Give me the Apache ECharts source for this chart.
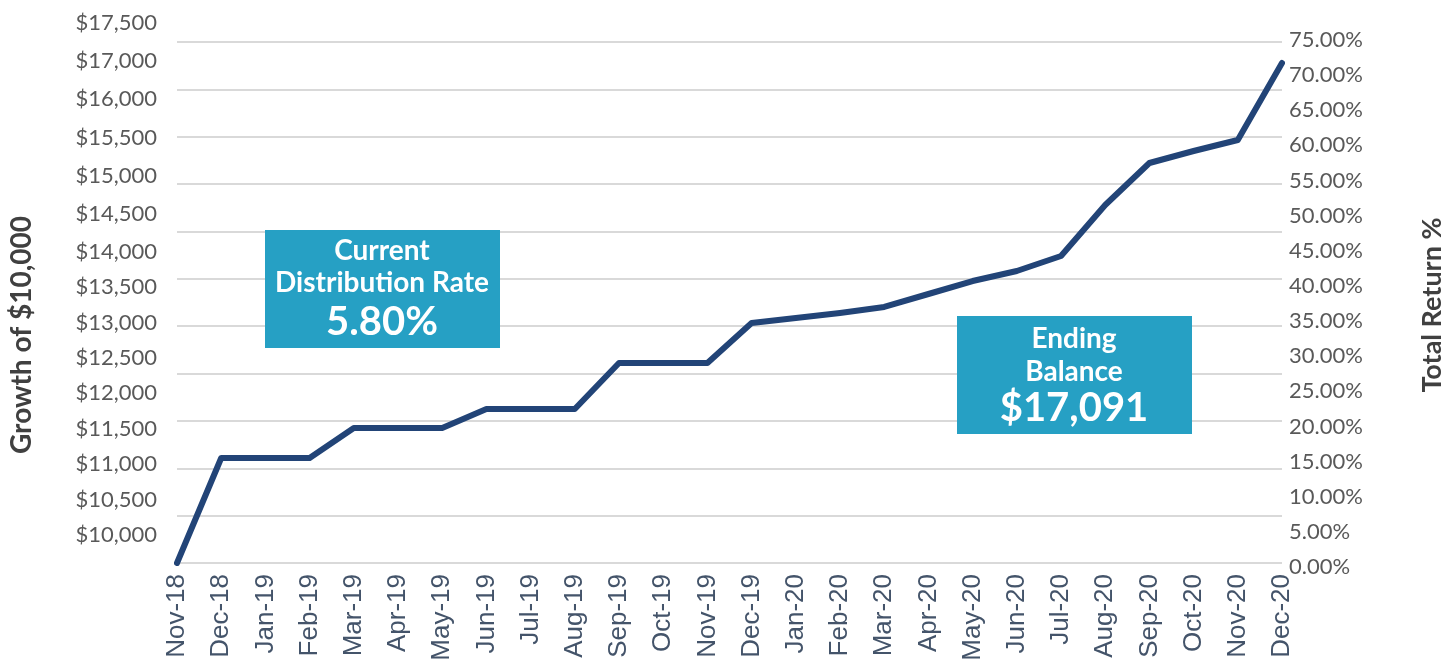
<!DOCTYPE html>
<html>
<head>
<meta charset="utf-8">
<script src="https://cdn.jsdelivr.net/npm/echarts@6/dist/echarts.min.js"></script>
<style>
  html, body { margin: 0; background: #fff; }
  #chart { width: 1444px; height: 664px; }
</style>
</head>
<body>
<div id="chart"></div>
<script>
const months = [
  "Nov-18", "Dec-18", "Jan-19", "Feb-19", "Mar-19", "Apr-19", "May-19",
  "Jun-19", "Jul-19", "Aug-19", "Sep-19", "Oct-19", "Nov-19", "Dec-19",
  "Jan-20", "Feb-20", "Mar-20", "Apr-20", "May-20", "Jun-20", "Jul-20",
  "Aug-20", "Sep-20", "Oct-20", "Nov-20", "Dec-20",
];
const growth = [
  10000, 11489, 11489, 11489, 11915, 11915, 11915, 12184, 12184, 12184,
  12836, 12836, 12836, 13404, 13475, 13546, 13631, 13815, 13999, 14141,
  14354, 15077, 15673, 15843, 15999, 17091,
];
// left labels sit on two slightly different spacings in the source
const dollarTicksUpper = ["$17,500", "$17,000", "$16,000", "$15,500", "$15,000", "$14,500", "$14,000"];
const dollarTicksLower = ["$13,500", "$13,000", "$12,500", "$12,000", "$11,500", "$11,000", "$10,500", "$10,000"];
const returnMin = 0;
const returnMax = 75;
const returnStep = 5;
const gridBands = 11;
const distributionRate = "5.80%";
const endingBalance = "$" + growth[growth.length - 1].toLocaleString("en-US");

const labelFont = { fontFamily: "Lato", fontSize: 22, color: "#595959" };
const boxColor = "#26a0c4";

function boxText(x, y, text, size) {
  return {
    type: "text",
    x, y, z: 110,
    style: {
      text,
      fill: "#fff",
      font: `bold ${size}px Lato`,
      align: "center",
      verticalAlign: "middle",
    },
  };
}

const chart = echarts.init(document.getElementById("chart"));
chart.setOption({
  animation: false,
  grid: [
    { left: 177, right: 162, top: 42, bottom: 101 },
    { left: 177, right: 162, top: 40, bottom: 97 },
    { left: 177, right: 162, top: 23, bottom: 412 },
    { left: 177, right: 162, top: 287, bottom: 129 },
  ],
  xAxis: [
    {
      gridIndex: 0,
      type: "category",
      boundaryGap: false,
      data: months,
      axisLine: { show: false },
      axisTick: { show: false },
      axisLabel: {
        rotate: 90,
        margin: 11,
        interval: 0,
        fontFamily: "Liberation Sans",
        fontSize: 26,
        color: "#44546a",
      },
    },
    { gridIndex: 1, type: "value", show: false },
    { gridIndex: 2, type: "value", show: false },
    { gridIndex: 3, type: "value", show: false },
  ],
  yAxis: [
    {
      gridIndex: 0,
      type: "value",
      min: 0,
      max: gridBands,
      interval: 1,
      axisLabel: { show: false },
      axisLine: { show: false },
      axisTick: { show: false },
      splitLine: { lineStyle: { color: "#d9d9d9", width: 2 } },
    },
    { gridIndex: 0, type: "value", min: 10000, max: 17389, show: false },
    {
      gridIndex: 1,
      type: "value",
      position: "right",
      min: returnMin,
      max: returnMax,
      interval: returnStep,
      axisLine: { show: false },
      axisTick: { show: false },
      splitLine: { show: false },
      axisLabel: { ...labelFont, margin: 7, formatter: (v) => v.toFixed(2) + "%" },
    },
    {
      gridIndex: 2,
      type: "category",
      inverse: true,
      boundaryGap: false,
      data: dollarTicksUpper,
      axisLine: { show: false },
      axisTick: { show: false },
      axisLabel: { ...labelFont, margin: 20 },
    },
    {
      gridIndex: 3,
      type: "category",
      inverse: true,
      boundaryGap: false,
      data: dollarTicksLower,
      axisLine: { show: false },
      axisTick: { show: false },
      axisLabel: { ...labelFont, margin: 20 },
    },
  ],
  series: [
    {
      type: "line",
      xAxisIndex: 0,
      yAxisIndex: 1,
      data: growth,
      showSymbol: false,
      lineStyle: { color: "#224477", width: 6, join: "round", cap: "round" },
    },
  ],
  graphic: [
    {
      type: "text",
      x: 22, y: 335,
      rotation: Math.PI / 2,
      style: {
        text: "Growth of $10,000",
        fill: "#404040",
        font: "bold 28px Lato",
        align: "center",
        verticalAlign: "middle",
      },
    },
    {
      type: "text",
      x: 1432, y: 305,
      rotation: Math.PI / 2,
      style: {
        text: "Total Return %",
        fill: "#404040",
        font: "bold 27px Lato",
        align: "center",
        verticalAlign: "middle",
      },
    },
    { type: "rect", z: 100, shape: { x: 265, y: 230, width: 235, height: 118 }, style: { fill: boxColor } },
    boxText(382, 251, "Current", 28),
    boxText(382, 283, "Distribution Rate", 28),
    boxText(382, 322, distributionRate, 40),
    { type: "rect", z: 100, shape: { x: 957, y: 316, width: 235, height: 118 }, style: { fill: boxColor } },
    boxText(1074, 339, "Ending", 28),
    boxText(1074, 372, "Balance", 28),
    boxText(1074, 408, endingBalance, 40),
  ],
});
</script>
</body>
</html>
